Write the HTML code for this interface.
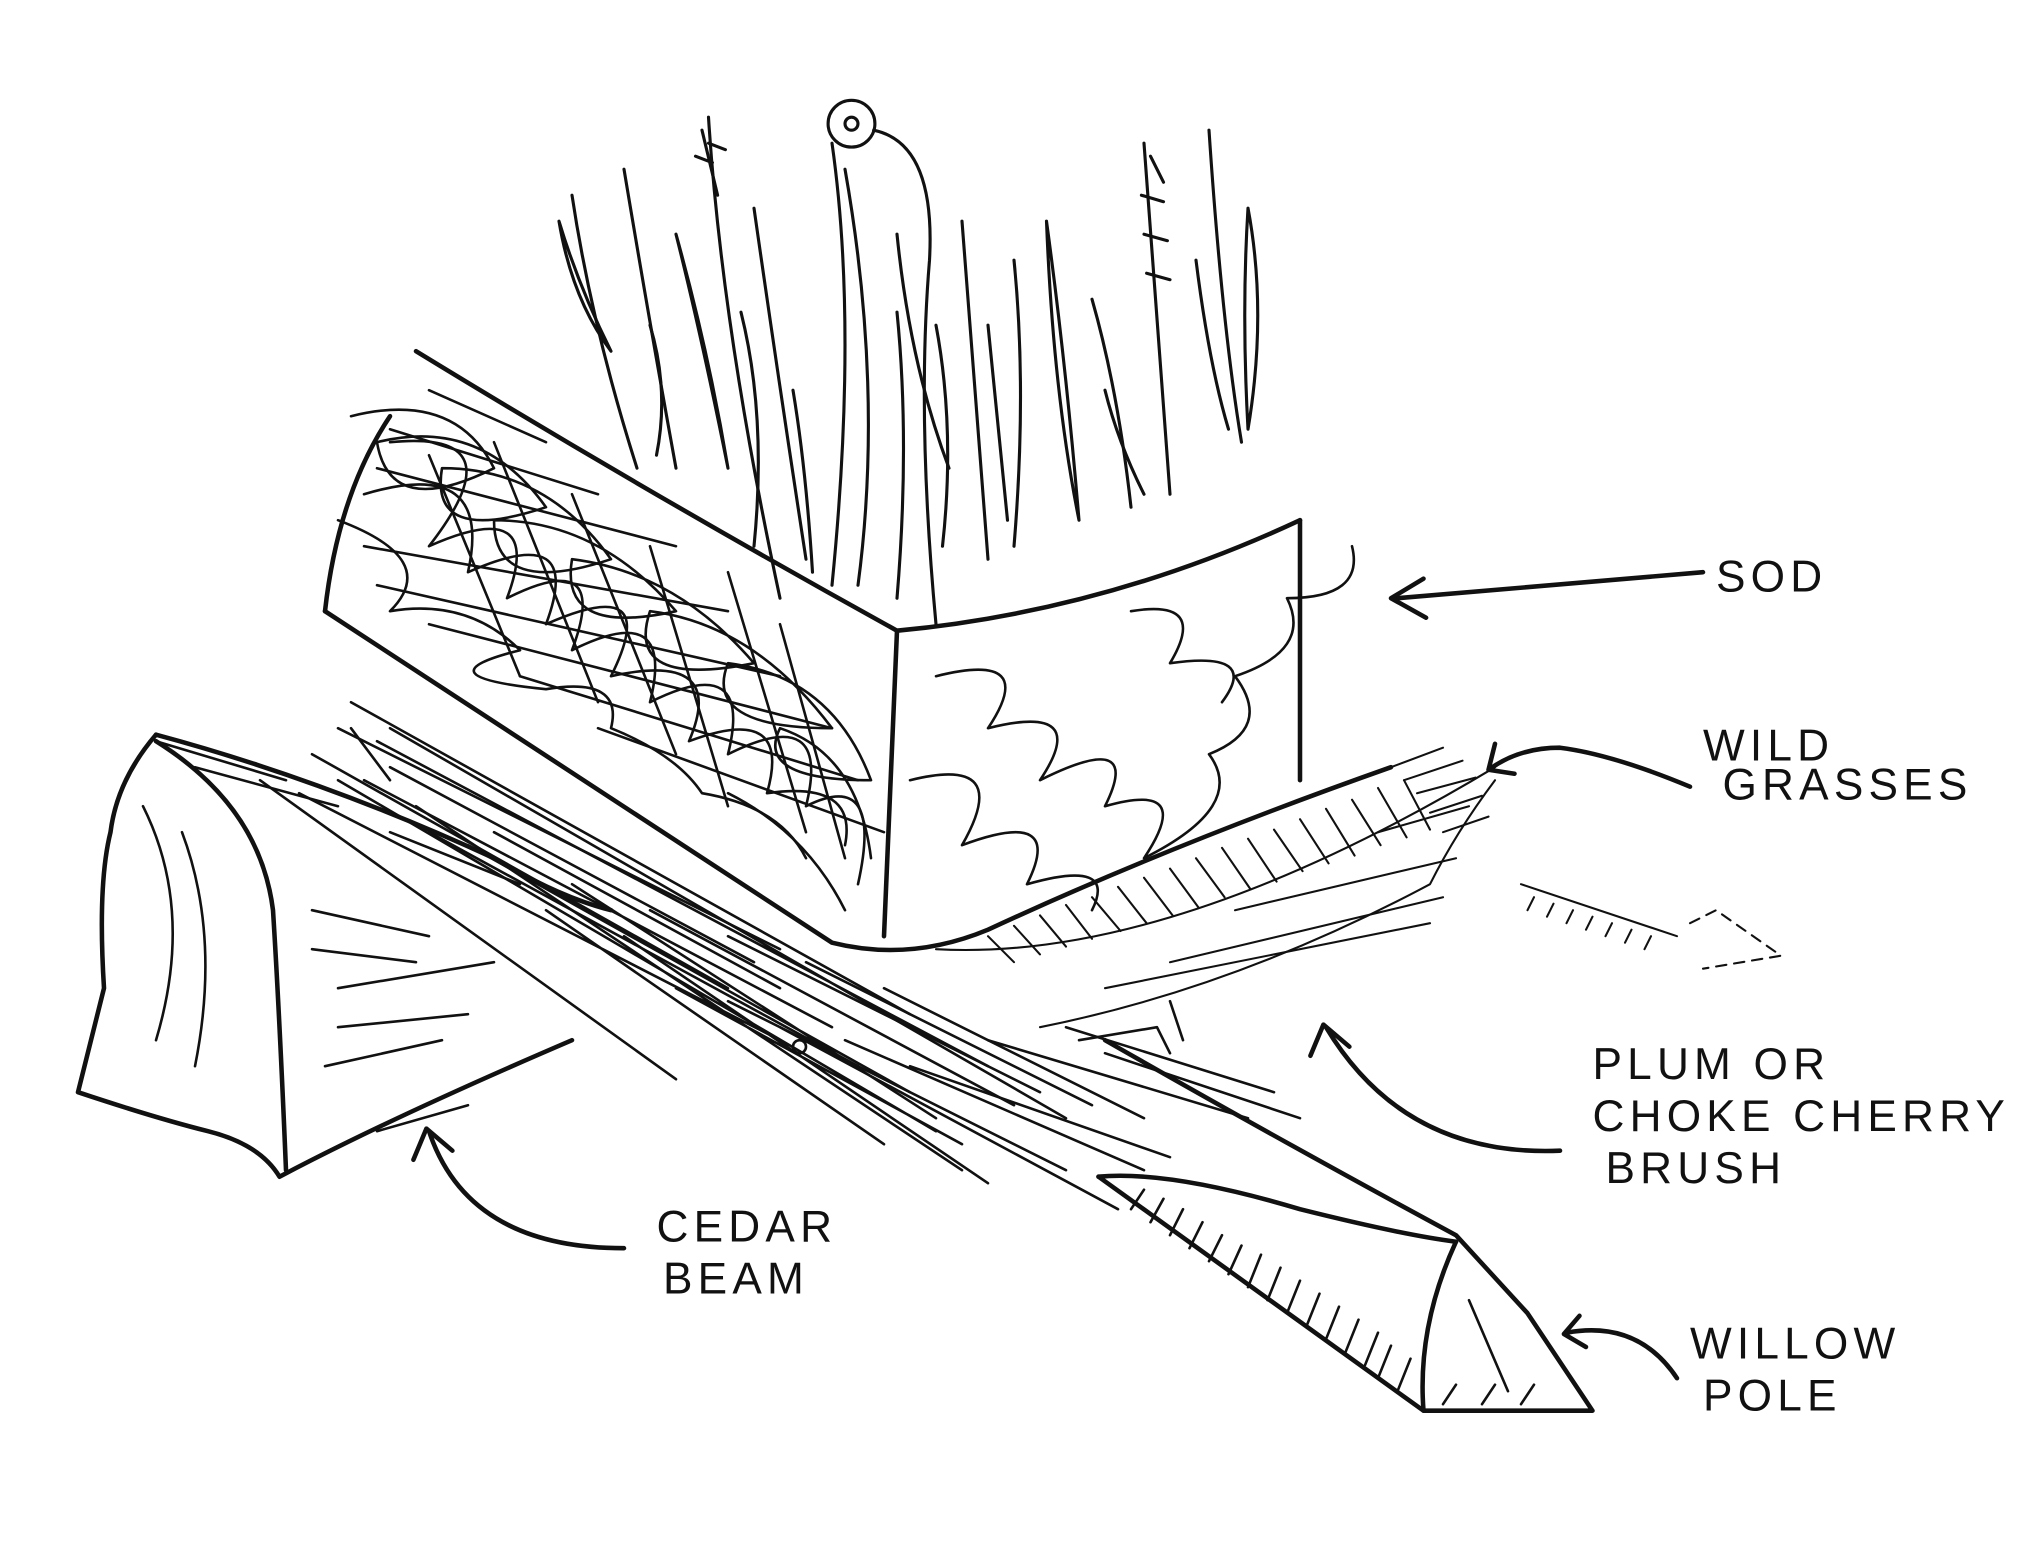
<!DOCTYPE html>
<html><head><meta charset="utf-8"><style>
html,body{margin:0;padding:0;background:#fff;}
svg{display:block;}
text{font-family:"Liberation Sans",sans-serif;font-size:34px;fill:#111;letter-spacing:4px;}
</style></head><body>
<svg width="2028" height="1550" viewBox="0 0 1560 1192" xmlns="http://www.w3.org/2000/svg">
<rect width="1560" height="1192" fill="#fff"/>
<g fill="none" stroke="#111" stroke-width="3.5" stroke-linecap="round" stroke-linejoin="round">
<!-- grasses -->
<g stroke-width="2.4">
<path d="M440 150 Q455 250 490 360"/><path d="M430 170 Q440 230 470 270 Q445 220 430 170"/>
<path d="M480 130 Q500 250 520 360"/><path d="M545 90 Q555 250 600 460"/><path d="M540 100 L552 150 M535 120 L548 125 M545 110 L558 115"/>
<path d="M520 180 Q540 260 560 360 Q545 270 520 180"/><path d="M580 160 Q600 300 620 430"/>
<path d="M640 110 Q660 250 640 450"/><path d="M650 130 Q680 300 660 450"/>
<circle cx="655" cy="95" r="18"/><circle cx="655" cy="95" r="5"/>
<path d="M672 100 Q720 110 715 200 Q705 320 720 480"/><path d="M690 180 Q700 280 730 360 Q700 280 690 180"/>
<path d="M740 170 Q750 300 760 430"/><path d="M780 200 Q790 300 780 420"/>
<path d="M805 170 Q820 280 830 400 Q810 300 805 170"/><path d="M840 230 Q860 300 870 390"/>
<path d="M880 110 Q890 250 900 380"/><path d="M885 120 L895 140 M878 150 L895 155 M880 180 L898 185 M882 210 L900 215"/>
<path d="M930 100 Q940 250 955 340"/><path d="M960 160 Q975 240 960 330 Q955 240 960 160"/>
<path d="M570 240 Q590 320 580 420"/><path d="M690 240 Q700 340 690 460"/><path d="M760 250 L775 400"/>
<path d="M500 250 Q515 300 505 350 M610 300 Q620 360 625 440 M720 250 Q735 330 725 420 M850 300 Q860 340 880 380 M920 200 Q930 280 945 330"/>
</g>
<!-- sod block -->
<path d="M320 270 Q500 380 690 485 Q850 470 1000 400"/>
<path d="M250 470 Q450 600 640 725 Q700 740 760 715 Q900 650 1070 590"/>
<path d="M250 470 Q260 380 300 320"/>
<path d="M690 485 L680 720"/><path d="M1000 400 L1000 600"/>
<g stroke-width="2">
<path d="M270 320 Q350 300 380 360 Q300 400 290 340 Q370 320 420 390 Q330 420 340 360 Q420 360 470 430 Q380 460 380 400 Q460 400 520 470 Q430 490 440 430 Q520 440 580 510 Q480 530 500 470 Q580 480 640 560 Q540 560 560 510 Q640 520 670 600 Q580 600 600 560 Q660 580 670 660"/>
<path d="M260 400 Q340 430 300 470 Q360 460 400 500 Q320 520 420 530 Q480 520 470 560 Q520 580 540 610 Q600 620 620 660"/>
<path d="M300 340 Q400 330 330 420 Q420 380 390 460 Q470 420 440 500 Q520 460 500 540 Q580 500 560 580 Q640 540 620 620 Q680 590 660 680"/>
<path d="M280 380 Q380 350 360 440 Q450 400 420 480 Q510 440 470 520 Q560 500 530 570 Q610 540 590 610 Q660 600 650 650"/>
<path d="M330 300 L420 340 M300 330 L460 380 M290 360 L520 420 M280 420 L560 470 M290 450 L600 520 M330 480 L640 560 M400 520 L660 600 M460 560 L680 640"/>
<path d="M330 350 L400 520 M380 340 L460 540 M440 380 L520 580 M500 420 L560 620 M560 440 L620 640 M600 480 L650 660"/>
<path d="M720 520 Q800 500 760 560 Q840 540 800 600 Q880 560 850 620 Q920 600 880 660 Q960 620 930 580 Q980 560 950 520 Q1010 500 990 460 Q1050 460 1040 420"/>
<path d="M700 600 Q780 580 740 650 Q820 620 790 680 Q860 660 840 700"/>
<path d="M870 470 Q930 460 900 510 Q970 500 940 540"/>
</g>
<!-- ground hatch right -->
<g stroke-width="1.6">
<path d="M1070 590 L1110 575 M1080 600 L1125 585 M1090 610 L1135 598 M1100 625 L1140 612 M1110 640 L1145 628 M1060 640 L1130 620 M950 700 L1120 660 M900 740 L1110 690 M850 760 L1100 710"/>
<path d="M760 720 L780 740 M780 712 L800 734 M800 704 L820 728 M820 696 L840 722 M840 690 L862 716 M860 682 L882 710 M880 675 L902 704 M900 668 L922 698 M920 660 L942 690 M940 652 L962 684 M960 645 L982 678 M980 638 L1002 670 M1000 630 L1022 664 M1020 622 L1042 658 M1040 615 L1062 650 M1060 606 L1082 644 M1080 600 L1100 638"/>
<path d="M720 730 Q900 740 1150 590"/><path d="M800 790 Q950 760 1100 680 Q1120 640 1150 600"/>
<path d="M1170 680 L1290 720 M1180 690 L1175 700 M1195 695 L1190 705 M1210 700 L1205 710 M1225 705 L1220 715 M1240 710 L1235 720 M1255 715 L1250 725 M1270 720 L1265 730"/>
<path d="M1300 710 L1320 700 L1370 735 L1310 745" stroke-dasharray="8 6"/>
</g>
<!-- brush -->
<g stroke-width="2">
<path d="M200 600 L520 830 M230 610 L600 800 M260 600 L720 870 M290 570 L760 820 M270 540 L700 780 M300 560 L820 860 M320 620 L740 900 M380 640 L600 760 M420 700 L680 880 M480 720 L760 910 M520 760 L740 880 M560 770 L820 900 M600 790 L860 930 M650 800 L880 900 M700 820 L900 890 M760 800 L960 860 M820 790 L980 840 M850 810 L1000 860"/>
<path d="M240 580 L560 760 M280 600 L640 790 M330 640 L660 820 M260 560 L600 730 M300 590 L580 740 M360 650 L700 840 M440 680 L720 860 M500 700 L780 850 M560 720 L800 840 M620 740 L840 850 M680 760 L880 860"/>
<path d="M120 570 L220 600 M150 590 L260 620 M270 560 L300 600 M560 610 Q620 640 650 700"/>
<circle cx="615" cy="805" r="5"/>
<path d="M830 800 L890 790 L900 810 M900 770 L910 800"/>
</g>
<!-- cedar beam -->
<path d="M120 565 Q90 600 85 640 Q75 680 80 760 Q70 800 60 840 Q120 860 160 870 Q200 880 215 905 Q300 860 440 800"/>
<path d="M120 565 Q250 600 380 660 Q430 690 470 700"/>
<path d="M120 570 Q200 620 210 700 Q215 780 220 900"/>
<g stroke-width="2"><path d="M240 700 L330 720 M260 760 L380 740 M250 820 L340 800 M300 640 L400 680 M290 870 L360 850 M240 730 L320 740 M260 790 L360 780 M110 620 Q150 700 120 800 M140 640 Q170 720 150 820"/></g>
<!-- willow pole -->
<path d="M845 905 L1095 1085 L1225 1085 L1175 1010 L1120 950 Q990 880 850 800"/>
<path d="M845 905 Q900 900 1000 930 Q1080 950 1120 955"/>
<path d="M1120 955 Q1090 1020 1095 1085"/>
<g stroke-width="2"><path d="M870 930 L880 915 M900 950 L910 930 M930 970 L940 950 M960 990 L970 965 M990 1010 L1000 985 M1020 1030 L1030 1005 M1050 1050 L1060 1025 M1075 1070 L1085 1045 M1110 1080 L1120 1065 M1140 1080 L1150 1065 M1170 1080 L1180 1065 M1130 1000 L1160 1070 M885 940 L895 922 M915 960 L925 940 M945 980 L955 958 M975 1000 L985 975 M1005 1020 L1015 995 M1035 1040 L1045 1015 M1060 1060 L1070 1035"/></g>
<!-- arrows -->
<path d="M1310 440 L1075 460"/><path d="M1095 445 L1070 460 L1097 475"/>
<path d="M1300 605 Q1240 580 1200 575 Q1170 575 1148 590"/><path d="M1150 572 L1145 592 L1165 595"/>
<path d="M1200 885 Q1080 890 1020 790"/><path d="M1008 812 L1018 788 L1038 805"/>
<path d="M480 960 Q360 960 330 870"/><path d="M318 892 L328 868 L348 885"/>
<path d="M1290 1060 Q1260 1015 1205 1025"/><path d="M1215 1012 L1203 1026 L1220 1036"/>
</g>
<text x="1320" y="455">SOD</text>
<text x="1310" y="585">WILD</text>
<text x="1325" y="615">GRASSES</text>
<text x="1225" y="830">PLUM  OR</text>
<text x="1225" y="870">CHOKE  CHERRY</text>
<text x="1235" y="910">BRUSH</text>
<text x="505" y="955">CEDAR</text>
<text x="510" y="995">BEAM</text>
<text x="1300" y="1045">WILLOW</text>
<text x="1310" y="1085">POLE</text>
</svg>
</body></html>
